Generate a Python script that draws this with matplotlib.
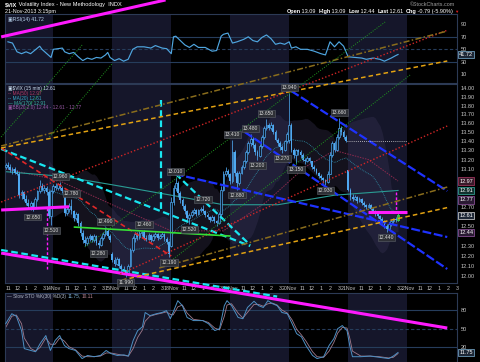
import numpy as np
import pandas as pd
import matplotlib
matplotlib.use("Agg")
import matplotlib.pyplot as plt
from matplotlib.ticker import FixedLocator, NullLocator, FuncFormatter

# 15-min candles (open, high, low, close); x axis is a bar index, 26 bars per session
nov13 = [(13.12, 13.16, 13.10, 13.14), (13.14, 13.17, 13.10, 13.12), (13.12, 13.15, 13.07, 13.09),
         (13.09, 13.12, 13.05, 13.10), (13.10, 13.12, 13.04, 13.06), (13.06, 13.09, 13.03, 13.05),
         (13.05, 13.07, 12.79, 12.82), (12.82, 12.87, 12.78, 12.85), (12.85, 12.86, 12.76, 12.78),
         (12.78, 12.82, 12.72, 12.74), (12.74, 12.78, 12.69, 12.71), (12.71, 12.76, 12.67, 12.74),
         (12.74, 12.75, 12.65, 12.70), (12.70, 12.80, 12.69, 12.78), (12.78, 12.88, 12.76, 12.86),
         (12.86, 12.98, 12.84, 12.92), (12.92, 12.95, 12.86, 12.88), (12.88, 12.93, 12.84, 12.90),
         (12.90, 12.92, 12.82, 12.85), (12.85, 12.87, 12.58, 12.60), (12.60, 12.88, 12.51, 12.86)]
nov14 = [(12.86, 12.94, 12.84, 12.92), (12.92, 12.95, 12.88, 12.90), (12.90, 12.95, 12.88, 12.94),
         (12.94, 12.96, 12.88, 12.90), (12.90, 12.92, 12.84, 12.86), (12.86, 12.87, 12.60, 12.63),
         (12.63, 12.70, 12.61, 12.68), (12.68, 12.74, 12.64, 12.71), (12.71, 12.78, 12.62, 12.65),
         (12.65, 12.67, 12.55, 12.58), (12.58, 12.64, 12.56, 12.62), (12.62, 12.63, 12.50, 12.53),
         (12.53, 12.55, 12.40, 12.43), (12.43, 12.46, 12.33, 12.36), (12.36, 12.40, 12.30, 12.33),
         (12.33, 12.40, 12.31, 12.38), (12.38, 12.42, 12.35, 12.40), (12.40, 12.41, 12.34, 12.36),
         (12.36, 12.42, 12.34, 12.40), (12.40, 12.41, 12.31, 12.33), (12.33, 12.36, 12.28, 12.31),
         (12.31, 12.40, 12.30, 12.38), (12.38, 12.44, 12.36, 12.42), (12.42, 12.49, 12.40, 12.45),
         (12.45, 12.47, 12.38, 12.40), (12.40, 12.42, 12.34, 12.36)]
nov15 = [(12.22, 12.24, 12.14, 12.16), (12.16, 12.19, 12.10, 12.12), (12.12, 12.19, 12.11, 12.17),
         (12.17, 12.18, 12.08, 12.10), (12.10, 12.12, 12.04, 12.07), (12.07, 12.10, 12.02, 12.05),
         (12.05, 12.06, 11.99, 12.02), (12.02, 12.12, 12.01, 12.10), (12.10, 12.28, 12.09, 12.26),
         (12.26, 12.40, 12.24, 12.38), (12.38, 12.44, 12.34, 12.42), (12.42, 12.44, 12.36, 12.39),
         (12.39, 12.45, 12.37, 12.43), (12.43, 12.45, 12.40, 12.44), (12.44, 12.46, 12.36, 12.38),
         (12.38, 12.41, 12.35, 12.37), (12.37, 12.43, 12.36, 12.41), (12.41, 12.42, 12.34, 12.36),
         (12.36, 12.42, 12.35, 12.40), (12.40, 12.44, 12.38, 12.42), (12.42, 12.43, 12.36, 12.38),
         (12.38, 12.42, 12.37, 12.40), (12.40, 12.44, 12.39, 12.42), (12.42, 12.43, 12.35, 12.37),
         (12.37, 12.39, 12.32, 12.34), (12.34, 12.35, 12.19, 12.22)]
nov18 = [(12.30, 12.80, 12.29, 12.75), (12.75, 12.93, 12.72, 12.90), (12.90, 13.01, 12.86, 12.95),
         (12.95, 12.97, 12.80, 12.84), (12.84, 12.86, 12.74, 12.77), (12.77, 12.79, 12.68, 12.71),
         (12.71, 12.73, 12.62, 12.65), (12.65, 12.67, 12.55, 12.58), (12.58, 12.63, 12.52, 12.61),
         (12.61, 12.66, 12.59, 12.64), (12.64, 12.69, 12.62, 12.67), (12.67, 12.68, 12.60, 12.62),
         (12.62, 12.68, 12.61, 12.66), (12.66, 12.70, 12.64, 12.68), (12.68, 12.72, 12.63, 12.65),
         (12.65, 12.66, 12.59, 12.61), (12.61, 12.63, 12.57, 12.59), (12.59, 12.60, 12.54, 12.56),
         (12.56, 12.61, 12.55, 12.59), (12.59, 12.60, 12.53, 12.55), (12.55, 12.56, 12.50, 12.53),
         (12.53, 12.64, 12.52, 12.62), (12.62, 12.92, 12.60, 12.88), (12.88, 13.08, 12.86, 13.05),
         (13.05, 13.12, 13.02, 13.08), (13.08, 13.10, 13.01, 13.04)]
nov19 = [(13.04, 13.06, 12.94, 12.97), (12.97, 13.41, 12.95, 13.28), (13.28, 13.30, 13.02, 13.06),
         (13.06, 13.08, 12.88, 12.95), (12.95, 13.08, 12.93, 13.06), (13.06, 13.14, 13.04, 13.12),
         (13.12, 13.20, 13.10, 13.18), (13.18, 13.30, 13.16, 13.28), (13.28, 13.40, 13.26, 13.38),
         (13.38, 13.48, 13.35, 13.43), (13.43, 13.45, 13.33, 13.36), (13.36, 13.38, 13.25, 13.28),
         (13.28, 13.30, 13.20, 13.24), (13.24, 13.37, 13.23, 13.35), (13.35, 13.47, 13.33, 13.45),
         (13.45, 13.57, 13.43, 13.55), (13.55, 13.65, 13.52, 13.58), (13.58, 13.60, 13.52, 13.55),
         (13.55, 13.61, 13.53, 13.58), (13.58, 13.59, 13.48, 13.50), (13.50, 13.52, 13.40, 13.42),
         (13.42, 13.44, 13.35, 13.38), (13.38, 13.40, 13.31, 13.34), (13.34, 13.36, 13.27, 13.30),
         (13.30, 13.42, 13.29, 13.40), (13.40, 13.50, 13.38, 13.48)]
nov20 = [(13.42, 13.94, 13.38, 13.58), (13.58, 13.60, 13.28, 13.31), (13.31, 13.33, 13.22, 13.25),
         (13.25, 13.32, 13.15, 13.30), (13.30, 13.32, 13.25, 13.28), (13.28, 13.30, 13.22, 13.25),
         (13.25, 13.27, 13.18, 13.20), (13.20, 13.22, 13.15, 13.18), (13.18, 13.24, 13.17, 13.22),
         (13.22, 13.23, 13.16, 13.18), (13.18, 13.19, 13.10, 13.12), (13.12, 13.14, 13.08, 13.10),
         (13.10, 13.11, 13.04, 13.06), (13.06, 13.07, 13.00, 13.02), (13.02, 13.04, 12.98, 13.00),
         (13.00, 13.01, 12.95, 12.98), (12.98, 12.99, 12.93, 12.96), (12.96, 13.08, 12.95, 13.05),
         (13.05, 13.28, 13.04, 13.25), (13.25, 13.40, 13.23, 13.38), (13.38, 13.40, 13.28, 13.30),
         (13.30, 13.48, 13.29, 13.45), (13.45, 13.66, 13.43, 13.55), (13.55, 13.57, 13.47, 13.50),
         (13.50, 13.52, 13.43, 13.45), (13.45, 13.47, 13.39, 13.40)]
nov21 = [(13.09, 13.09, 12.86, 12.88), (12.88, 12.90, 12.77, 12.80), (12.80, 12.83, 12.76, 12.78),
         (12.78, 12.82, 12.77, 12.80), (12.80, 12.81, 12.74, 12.76), (12.76, 12.80, 12.75, 12.78),
         (12.78, 12.79, 12.72, 12.74), (12.74, 12.76, 12.70, 12.72), (12.72, 12.73, 12.68, 12.70),
         (12.70, 12.74, 12.69, 12.72), (12.72, 12.73, 12.66, 12.68), (12.68, 12.70, 12.63, 12.65),
         (12.65, 12.66, 12.60, 12.62), (12.62, 12.64, 12.58, 12.60), (12.60, 12.61, 12.55, 12.57),
         (12.57, 12.59, 12.53, 12.55), (12.55, 12.56, 12.48, 12.50), (12.50, 12.52, 12.44, 12.47),
         (12.47, 12.54, 12.46, 12.52), (12.52, 12.56, 12.50, 12.55), (12.55, 12.58, 12.53, 12.57),
         (12.57, 12.59, 12.54, 12.56), (12.56, 12.63, 12.55, 12.61)]
sessions = [nov13, nov14, nov15, nov18, nov19, nov20, nov21]
session_first_bar = [5, 26, 52, 78, 104, 130, 156]
date_labels = ["14Nov", "15Nov", "18Nov", "19Nov", "20Nov", "21Nov", "22Nov"]
hour_labels = ["11", "12", "1", "2", "3"]

# labelled highs / lows
hl_bars = [17, 25, 29, 34, 46, 49, 58, 66, 77, 80, 86, 92, 105, 107, 113, 116, 120, 127, 130, 133, 146, 152, 173]
hl_prices = [12.65, 12.51, 12.96, 12.78, 12.28, 12.49, 11.99, 12.46, 12.19, 13.01, 12.52, 12.72,
             13.41, 12.88, 13.48, 13.20, 13.65, 13.27, 13.94, 13.15, 12.93, 13.66, 12.44]
hl_kind = ["L", "L", "H", "H", "L", "H", "L", "H", "L", "H", "L", "H",
           "H", "L", "H", "L", "H", "L", "H", "L", "L", "H", "L"]

# moving averages (bar, value)
ma50_bars = [5, 28, 52, 78, 101, 120, 137, 150, 165, 178]
ma50_vals = [13.10, 12.98, 12.72, 12.45, 12.45, 12.75, 13.12, 13.30, 13.20, 12.97]
ma170_bars = [5, 30, 52, 78, 101, 125, 150, 178]
ma170_vals = [13.07, 13.02, 12.93, 12.82, 12.72, 12.72, 12.82, 12.87]

# RSI(14)
rsi_bars = [6, 8, 10, 12, 14, 16, 18, 20, 21, 25, 26, 28, 30, 31, 33, 35, 37, 39, 41, 43, 45, 47, 49, 50, 51,
            53, 55, 57, 59, 61, 63, 66, 69, 71, 74, 76, 78, 79, 80, 82, 84, 86, 88, 90, 93, 96, 98, 100, 101,
            103, 105, 107, 110, 112, 114, 116, 118, 120, 122, 124, 126, 128, 130, 131, 133, 135, 138, 141,
            144, 146, 148, 150, 152, 154, 156, 159, 162, 164, 167, 170, 172, 175, 177, 178]
rsi_vals = [62, 60, 46, 43, 46, 43, 49, 55, 50, 37, 50, 51, 52, 46, 43, 45, 38, 32, 36, 34, 37, 36, 41, 45, 37,
            32, 35, 31, 34, 50, 54, 54, 52, 56, 52, 51, 43, 70, 71, 64, 57, 53, 58, 53, 53, 47, 48, 71, 74,
            76, 60, 62, 66, 70, 64, 62, 69, 73, 67, 58, 60, 58, 62, 52, 54, 50, 50, 47,
            43, 41, 62, 54, 62, 55, 38, 37, 36, 34, 36, 34, 31, 36, 40, 41.72]

# Slow stochastic %K(30) %D(3)
sto_bars = [5, 7.7, 9.7, 12, 13.2, 16.1, 18.2, 20.2, 22.7, 24.7, 26.8, 28.8, 30.9, 32.9, 35.8, 38.7, 41.1,
            44, 46.8, 49.3, 51.4, 54.2, 57.1, 59.1, 61.2, 63.2, 65.3, 66.5, 68.6, 71.4, 73.9, 75.9, 77.6,
            78.8, 80.9, 82.9, 85, 87.8, 91.9, 94.4, 97.2, 99.3, 101.4, 102.6, 104.6, 107.5, 109.6, 111.6,
            114.5, 116.5, 118.6, 120.6, 122.7, 124.7, 126.8, 129.2, 131.3, 133.3, 135.4, 137.4, 140.3,
            142.3, 145.2, 147.6, 149.7, 151.4, 153.4, 155.5, 156.7, 157.9, 161.6, 165.7, 169.8, 173.9,
            175.9, 178]
sto_k = [58, 74, 70, 47, 18, 15, 13, 26, 39, 15, 31, 39, 23, 18, 15, 2, 7, 5, 7, 15, 10, 7, 8, 6, 31, 47,
         53, 76, 71, 74, 76, 79, 66, 76, 95, 87, 68, 63, 63, 58, 47, 50, 87, 95, 87, 68, 66, 84, 94, 87,
         84, 95, 90, 87, 76, 74, 58, 42, 37, 23, 7, 2, 5, 23, 34, 50, 55, 47, 23, 5, 5, 6, 4, 2, 6, 11.75]
sto_d = [52, 70, 72, 58, 35, 18, 14, 20, 35, 25, 25, 35, 30, 21, 16, 6, 5, 5, 6, 11, 11, 9, 7, 6, 18, 36,
         48, 62, 70, 73, 75, 77, 73, 72, 85, 88, 75, 65, 63, 60, 51, 48, 70, 88, 90, 75, 67, 76, 89, 89,
         86, 90, 91, 88, 80, 75, 64, 49, 40, 30, 13, 5, 4, 14, 28, 43, 52, 51, 35, 14, 6, 6, 5, 3, 4, 10.11]

# hand-drawn annotation lines, (bar, price) end points on the price chart
trend_lines = {
    "magenta": [((3.0, 14.60), (75.5, 15.05)), ((3.0, 12.225), (199.7, 11.495)),
                ((3.0, 12.665), (33.0, 12.699)), ((164.9, 12.641), (182.0, 12.641))],
    "magenta_dots": [((23.2, 12.686), (23.2, 12.066)), ((176.9, 12.850), (176.9, 12.641))],
    "cyan": [((3.0, 13.316), (112.8, 12.296)), ((80.0, 13.045), (112.8, 12.306)),
             ((73.5, 13.863), (73.5, 12.654)), ((3.0, 12.256), (124.7, 11.796))],
    "blue": [((130.9, 13.966), (199.7, 12.864)), ((110.4, 13.503), (199.7, 12.066)),
             ((79.6, 13.045), (199.7, 12.387))],
    "red_dash": [((3.0, 13.327), (78.0, 12.195))],
    "red_dots": [((3.0, 12.748), (199.7, 14.68)), ((55.5, 12.016), (199.7, 13.570))],
    "gold": [((3.0, 13.349), (199.7, 14.67)), ((72.7, 12.076), (199.7, 12.906))],
    "orange": [((3.0, 13.327), (199.7, 14.314)), ((56.3, 11.957), (199.7, 12.690))],
    "green_dots": [((39.9, 12.286), (172.3, 14.78)), ((77.2, 12.135), (183.3, 14.150)),
                   ((3.0, 13.448), (38.7, 14.503)), ((24.3, 13.448), (52.2, 14.29))],
    "lime": [((35.0, 12.489), (104.2, 12.397))],
    "white_dots": [((155.5, 13.40), (182.1, 13.40))],
}
line_styles = {
    "magenta": dict(color="#ff1aff", lw=2.2),
    "magenta_dots": dict(color="#ff1aff", lw=1.0, dashes=(2, 1.5)),
    "cyan": dict(color="#19e6f0", lw=1.6, dashes=(3, 1.6)),
    "blue": dict(color="#1e32ff", lw=1.6, dashes=(4, 1.2)),
    "red_dash": dict(color="#e02828", lw=1.2, dashes=(3, 2)),
    "red_dots": dict(color="#d02626", lw=1.0, dashes=(1, 1.5)),
    "gold": dict(color="#8a6d1c", lw=1.1, dashes=(4, 1.5, 1, 1.5)),
    "orange": dict(color="#e3a212", lw=1.1, dashes=(3, 2)),
    "green_dots": dict(color="#1f9a1f", lw=0.7, dashes=(1, 1.5)),
    "lime": dict(color="#35e035", lw=1.2),
    "white_dots": dict(color="#d8d8d8", lw=0.6, dashes=(1, 1.5)),
}

# ---------------------------------------------------------------------------
plt.rcParams["font.family"] = ["Liberation Sans", "DejaVu Sans"]

bars, opens, highs, lows, closes = [], [], [], [], []
for first, day in zip(session_first_bar, sessions):
    for i, (o, h, l, c) in enumerate(day):
        bars.append(first + i)
        opens.append(o)
        highs.append(h)
        lows.append(l)
        closes.append(c)
px = pd.DataFrame({"bar": bars, "open": opens, "high": highs, "low": lows, "close": closes})
px["ma20"] = px["close"].rolling(20).mean()
px["sd20"] = px["close"].rolling(20).std(ddof=0)

W, H = 480, 362
BG = "#000000"
BAND = "#15162a"
SPINE = "#2c3a55"
GRID = "#263d5c"
TXT = "#c8c8c8"
CANDLE = "#4fa8f0"


def rect(x0, y0, x1, y1):
    return [x0 / W, 1 - y1 / H, (x1 - x0) / W, (y1 - y0) / H]


fig = plt.figure(figsize=(W / 100, H / 100), dpi=100, facecolor=BG)
ax_rsi = fig.add_axes(rect(5, 14, 457, 83))
ax = fig.add_axes(rect(5, 84, 457, 283), sharex=ax_rsi)
ax_sto = fig.add_axes(rect(5, 293, 457, 362), sharex=ax_rsi)

for a in (ax_rsi, ax, ax_sto):
    a.set_facecolor(BG)
    for s in a.spines.values():
        s.set_color(SPINE)
        s.set_linewidth(0.8)
    a.yaxis.tick_right()
    a.tick_params(length=0, labelsize=4.1, colors=TXT, pad=2.5)
    for k in range(8):
        if k % 2 == 0:
            a.axvspan(26 * k, 26 * k + 26, color=BAND, lw=0, zorder=0)
ax.set_xlim(4.7, 190.3)

# --- RSI panel
ax_rsi.set_ylim(-3.9, 106.5)
ax_rsi.set_yticks([10, 30, 50, 70, 90])
for v in (30, 70):
    ax_rsi.axhline(v, color=GRID, lw=0.8, zorder=1)
ax_rsi.axhline(50, color=GRID, lw=0.8, ls=(0, (3, 2)), zorder=1)
ax_rsi.plot(rsi_bars, rsi_vals, color="#4fa6e0", lw=0.85, zorder=3)
ax_rsi.tick_params(labelbottom=False)
ax_rsi.text(0.006, 0.95, "\u25a3RSI(14) 41.72", transform=ax_rsi.transAxes, fontsize=3.6,
            color="#b9d4ee", va="top", ha="left")
ax_rsi.annotate("41.72", xy=(1, rsi_vals[-1]), xycoords=("axes fraction", "data"), xytext=(1.6, 0),
                textcoords="offset points", fontsize=4.0, color="white", va="center", ha="left",
                bbox=dict(boxstyle="square,pad=0.2", fc="#1d2736", ec="#7fb4d8", lw=0.5))

# --- price panel
ax.set_yscale("log")
ax.set_ylim(11.928, 14.046)
price_ticks = [round(12 + 0.1 * i, 2) for i in range(21)]
hidden_ticks = [12.4, 12.6, 12.8, 12.9, 13.0]   # sit under the value boxes
ax.yaxis.set_major_locator(FixedLocator(price_ticks))
ax.yaxis.set_minor_locator(NullLocator())
ax.yaxis.set_major_formatter(FuncFormatter(
    lambda v, p: "" if any(abs(v - t) < 1e-6 for t in hidden_ticks) else f"{v:.2f}"))

up = px["close"] >= px["open"]
bw = 0.78
ax.vlines(px["bar"], px["low"], px["high"], color=CANDLE, lw=0.55, zorder=3)
body_lo = np.minimum(px["open"], px["close"])
body_h = np.maximum(np.abs(px["close"] - px["open"]), 0.006)
ax.bar(px["bar"][~up], body_h[~up], bottom=body_lo[~up], width=bw, color=CANDLE, lw=0, zorder=4)
ax.bar(px["bar"][up], body_h[up], bottom=body_lo[up], width=bw, facecolor="#0b1a2a", edgecolor=CANDLE,
       lw=0.5, zorder=4)
last = px.iloc[-1]
ax.bar([last["bar"]], [last["close"] - last["open"]], bottom=[last["open"]], width=bw,
       facecolor="#1c3a1c", edgecolor="#3ccf3c", lw=0.6, zorder=5)
ax.vlines([last["bar"]], [last["low"]], [last["high"]], color="#3ccf3c", lw=0.6, zorder=5)

# Bollinger cloud and moving averages
ax.fill_between(px["bar"], px["ma20"] - 2 * px["sd20"], px["ma20"] + 2 * px["sd20"],
                color="#3a3556", alpha=0.35, lw=0, zorder=1)
ax.plot(px["bar"], px["ma20"], color="#2f8fa8", lw=0.6, ls=(0, (1, 1.2)), zorder=2)
ax.plot(ma50_bars, ma50_vals, color="#8e2a4e", lw=0.7, ls=(0, (1.5, 1.2)), zorder=2)
ax.plot(ma170_bars, ma170_vals, color="#2a9c94", lw=0.8, zorder=2)

for name, segs in trend_lines.items():
    st = dict(line_styles[name])
    dashes = st.pop("dashes", None)
    for (x0, y0), (x1, y1) in segs:
        ln, = ax.plot([x0, x1], [y0, y1], clip_on=False, zorder=6, solid_capstyle="butt", **st)
        if dashes:
            ln.set_dashes(dashes)

for b, p, k in zip(hl_bars, hl_prices, hl_kind):
    ax.annotate(f"{p:.3f}", xy=(b, p), xytext=(0, 2.2 if k == "H" else -2.2), textcoords="offset points",
                ha="center", va="bottom" if k == "H" else "top", fontsize=3.6, color="#d8d8d8", zorder=7,
                bbox=dict(boxstyle="square,pad=0.18", fc="#2e3036", ec="#5c6068", lw=0.4))

legend_rows = [("\u25a3$VIX (15 min) 12.61", "#cfe3f5"), ("-- MA(50) 12.97", "#b03a66"),
               ("-- MA(20) 12.61", "#3aa6c4"), ("\u2014 MA(170) 12.91", "#3ab3a6"),
               ("\u25a3BB(20,2.0) 12.44 - 12.61 - 12.77", "#9a5aa8")]
for i, (t, col) in enumerate(legend_rows):
    ax.text(0.006, 0.99 - i * 0.0245, t, transform=ax.transAxes, fontsize=3.4, color=col,
            va="top", ha="left", zorder=8)

value_boxes = [(12.97, 0, "#3a1a2a", "#b03a66"), (12.91, -3.0, "#12302e", "#3ab3a6"),
               (12.77, 0, "#2a1a33", "#9a5aa8"), (12.61, 0, "#1d2736", "#e0e0e0"),
               (12.44, -0.4, "#2a1a33", "#9a5aa8")]
for v, dy, fc, ec in value_boxes:
    ax.annotate(f"{v:.2f}", xy=(1, v), xycoords=("axes fraction", "data"), xytext=(1.6, dy),
                textcoords="offset points", fontsize=4.0, color="white", va="center", ha="left",
                zorder=9, bbox=dict(boxstyle="square,pad=0.2", fc=fc, ec=ec, lw=0.5))

# time axis labels
tick_pos, tick_lab = [], []
for k in range(8):
    if k > 0:
        tick_pos.append(26 * k)
        tick_lab.append(date_labels[k - 1])
    for j, hl in enumerate(hour_labels):
        tick_pos.append(26 * k + 6 + 4 * j)
        tick_lab.append(hl)
ax.set_xticks(tick_pos)
ax.set_xticklabels(tick_lab)
ax.tick_params(axis="x", labelsize=3.8, pad=2.5, colors=TXT)

# --- stochastic panel
ax_sto.set_ylim(-3.5, 107.3)
ax_sto.set_yticks([20, 50, 80])
for v in (20, 80):
    ax_sto.axhline(v, color=GRID, lw=0.8, zorder=1)
ax_sto.axhline(50, color=GRID, lw=0.8, ls=(0, (3, 2)), zorder=1)
ax_sto.plot(sto_bars, sto_d, color="#a07a8c", lw=0.6, zorder=2)
ax_sto.plot(sto_bars, sto_k, color="#4d90c4", lw=0.7, zorder=3)
ax_sto.tick_params(labelbottom=False)
ax_sto.annotate("11.75", xy=(1, sto_k[-1]), xycoords=("axes fraction", "data"), xytext=(1.6, 0),
                textcoords="offset points", fontsize=4.0, color="white", va="center", ha="left",
                bbox=dict(boxstyle="square,pad=0.2", fc="#1d2736", ec="#7fb4d8", lw=0.5))

ax.set_zorder(5)

# --- chained texts (header, stochastic legend)
renderer = fig.canvas.get_renderer()


def chain(x_px, y_px, parts, size, align="left"):
    widths = []
    for text, _, _ in parts:
        t = fig.text(0, 0, text, fontsize=size)
        widths.append(t.get_window_extent(renderer).width)
        t.remove()
    x = x_px - sum(widths) if align == "right" else x_px
    for (text, col, bold), w in zip(parts, widths):
        fig.text(x / W, 1 - y_px / H, text, fontsize=size, color=col, va="center",
                 weight="bold" if bold else "normal")
        x += w


chain(5, 4.5, [("$VIX", "white", True), (" Volatility Index - New Methodology  INDX", "white", False)], 4.1)
fig.text(5 / W, 1 - 11.5 / H, "21-Nov-2013 3:15pm", fontsize=3.9, color="white", va="center")
fig.text(455 / W, 1 - 5 / H, "\u00a9StockCharts.com", fontsize=3.9, color="#a0a0a0", va="center", ha="right")
chain(453, 11.5, [("Open", "white", True), (" 13.09  ", "white", False), ("High", "white", True),
                  (" 13.09  ", "white", False), ("Low", "white", True), (" 12.44  ", "white", False),
                  ("Last", "white", True), (" 12.61  ", "white", False), ("Chg", "white", True),
                  (" -0.79 (-5.90%)", "white", False)], 4.0, align="right")
fig.text(454.5 / W, 1 - 11.5 / H, "\u25bc", fontsize=3.2, color="#e02020", va="center")
chain(7, 296.5, [("\u2014 Slow STO %K(30) %D(3) ", "#b0b8c8", False), ("11.75", "#7fb4d8", False),
                 (", ", "#b0b8c8", False), ("10.11", "#c08a9a", False)], 3.4)

fig.savefig("out.png", dpi=100, facecolor=BG)
